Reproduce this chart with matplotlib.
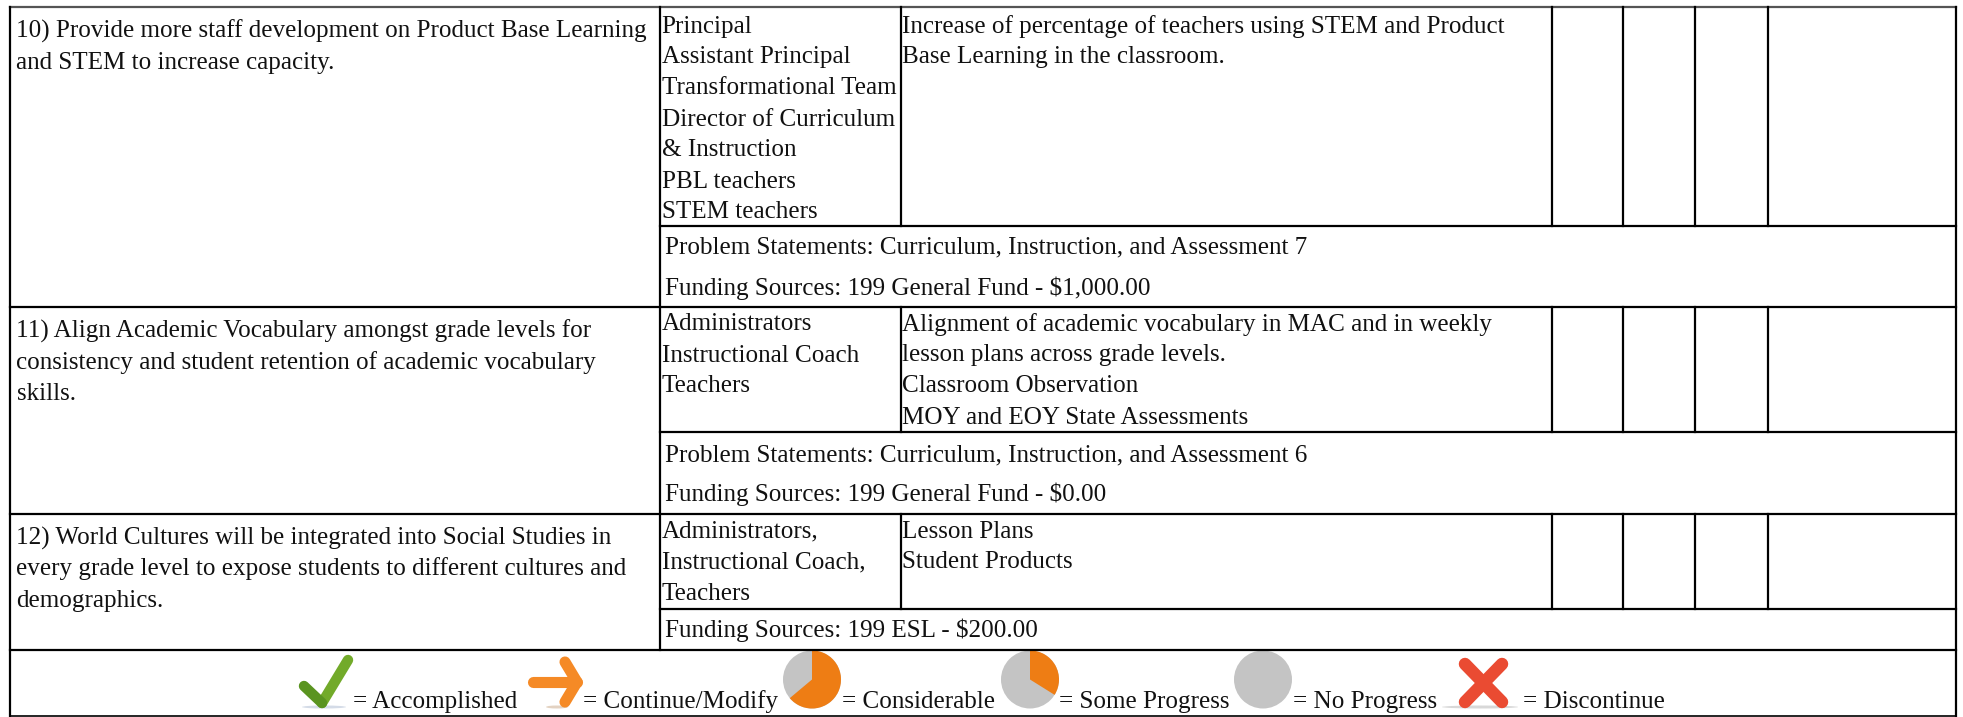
import matplotlib
matplotlib.use("Agg")
import matplotlib.pyplot as plt
from matplotlib.patches import Circle, Wedge, Ellipse

plt.rcParams['font.family'] = ['Liberation Serif', 'DejaVu Serif']

strategies = [
    ["10) Provide more staff development on Product Base Learning", "and STEM to increase capacity."],
    ["11) Align Academic Vocabulary amongst grade levels for",
     "consistency and student retention of academic vocabulary", "skills."],
    ["12) World Cultures will be integrated into Social Studies in",
     "every grade level to expose students to different cultures and", "demographics."],
]
staff = [
    ["Principal", "Assistant Principal", "Transformational Team", "Director of Curriculum",
     "& Instruction", "PBL teachers", "STEM teachers"],
    ["Administrators", "Instructional Coach", "Teachers"],
    ["Administrators,", "Instructional Coach,", "Teachers"],
]
evidence = [
    ["Increase of percentage of teachers using STEM and Product", "Base Learning in the classroom."],
    ["Alignment of academic vocabulary in MAC and in weekly", "lesson plans across grade levels.",
     "Classroom Observation", "MOY and EOY State Assessments"],
    ["Lesson Plans", "Student Products"],
]
footers = [
    ["Problem Statements: Curriculum, Instruction, and Assessment 7", "Funding Sources: 199 General Fund - $1,000.00"],
    ["Problem Statements: Curriculum, Instruction, and Assessment 6", "Funding Sources: 199 General Fund - $0.00"],
    ["Funding Sources: 199 ESL - $200.00"],
]
legend_labels = ["= Accomplished", "= Continue/Modify", "= Considerable", "= Some Progress", "= No Progress", "= Discontinue"]

# pixel layout
left_x, right_x = 10, 1956
col_x = [659.5, 900.5, 1552, 1623, 1695, 1768]
row_top = [7, 307, 514]
row_split = [226, 432, 609]
row_end = [307, 514, 649.5]
bottom_y = 716
strategy_base = [38, 337.5, 544.5]
cell_base = [32.5, 330.5, 537.5]
footer_base = [[253.5, 294.5], [461.5, 500.5], [637.5]]
line_step = 31
legend_x = [353, 583, 842, 1059, 1293, 1523]
legend_base = 708
fs = 18.05

fig = plt.figure(figsize=(19.63, 7.17), dpi=100)
ax = fig.add_axes([0, 0, 1, 1])
ax.set_xlim(0, 1963)
ax.set_ylim(717, 0)
ax.axis('off')

lw = 1.6
ax.plot([left_x, right_x], [7, 7], color='#555555', lw=lw)
ax.plot([left_x, left_x], [7, bottom_y], color='black', lw=lw)
ax.plot([right_x, right_x], [7, bottom_y], color='black', lw=lw)
ax.plot([left_x, right_x], [bottom_y, bottom_y], color='black', lw=1.2)
ax.plot([col_x[0], col_x[0]], [7, row_end[-1]], color='black', lw=lw)
for i in range(3):
    ax.plot([left_x, right_x], [row_end[i], row_end[i]], color='black', lw=lw)
    ax.plot([col_x[0], right_x], [row_split[i], row_split[i]], color='black', lw=lw)
    for x in col_x[1:]:
        ax.plot([x, x], [row_top[i], row_split[i]], color='black', lw=lw)

def put_text(x, y, s):
    ax.text(x, y, s, fontsize=fs, color='#111111', ha='left', va='baseline')

for i in range(3):
    for j, s in enumerate(strategies[i]):
        put_text(16.5, strategy_base[i] + j * line_step, s)
    for j, s in enumerate(staff[i]):
        put_text(661.5, cell_base[i] + j * line_step, s)
    for j, s in enumerate(evidence[i]):
        put_text(902.5, cell_base[i] + j * line_step, s)
    for y, s in zip(footer_base[i], footers[i]):
        put_text(665, y, s)

for x, s in zip(legend_x, legend_labels):
    put_text(x, legend_base, s)

# legend icons
grey = '#c4c4c4'
orange = '#ee7d14'
# check mark
ax.add_patch(Ellipse((324, 707), 44, 3, color='#b8c4d8', alpha=0.6, lw=0))
ax.plot([322, 348], [703, 660], color='#72aa2a', lw=7.5, solid_capstyle='round')
ax.plot([304, 322], [686, 703], color='#5a9420', lw=7.5, solid_capstyle='round')
# arrow
ax.add_patch(Ellipse((557, 707), 22, 3, color='#d8c0a8', alpha=0.7, lw=0))
ax.plot([533, 577], [682, 682], color='#f58a26', lw=8, solid_capstyle='round')
ax.plot([565, 577, 565], [662, 682, 702], color='#f58a26', lw=8,
        solid_capstyle='round', solid_joinstyle='round')
# considerable pie
ax.add_patch(Circle((812, 679.5), 29, color=grey, lw=0))
ax.add_patch(Wedge((812, 679.5), 29, -90, 140, color=orange, lw=0))
# some progress pie
ax.add_patch(Circle((1030, 679.5), 29, color=grey, lw=0))
ax.add_patch(Wedge((1030, 679.5), 29, -90, 32, color=orange, lw=0))
# no progress
ax.add_patch(Circle((1263, 679.5), 29, color=grey, lw=0))
# discontinue cross
ax.add_patch(Ellipse((1480, 707), 76, 3, color='#c8c8c8', alpha=0.7, lw=0))
ax.plot([1465, 1502], [664, 702], color='#ea4b32', lw=9, solid_capstyle='round')
ax.plot([1502, 1465], [664, 702], color='#ea4b32', lw=9, solid_capstyle='round')

fig.savefig("out.png", dpi=100)
